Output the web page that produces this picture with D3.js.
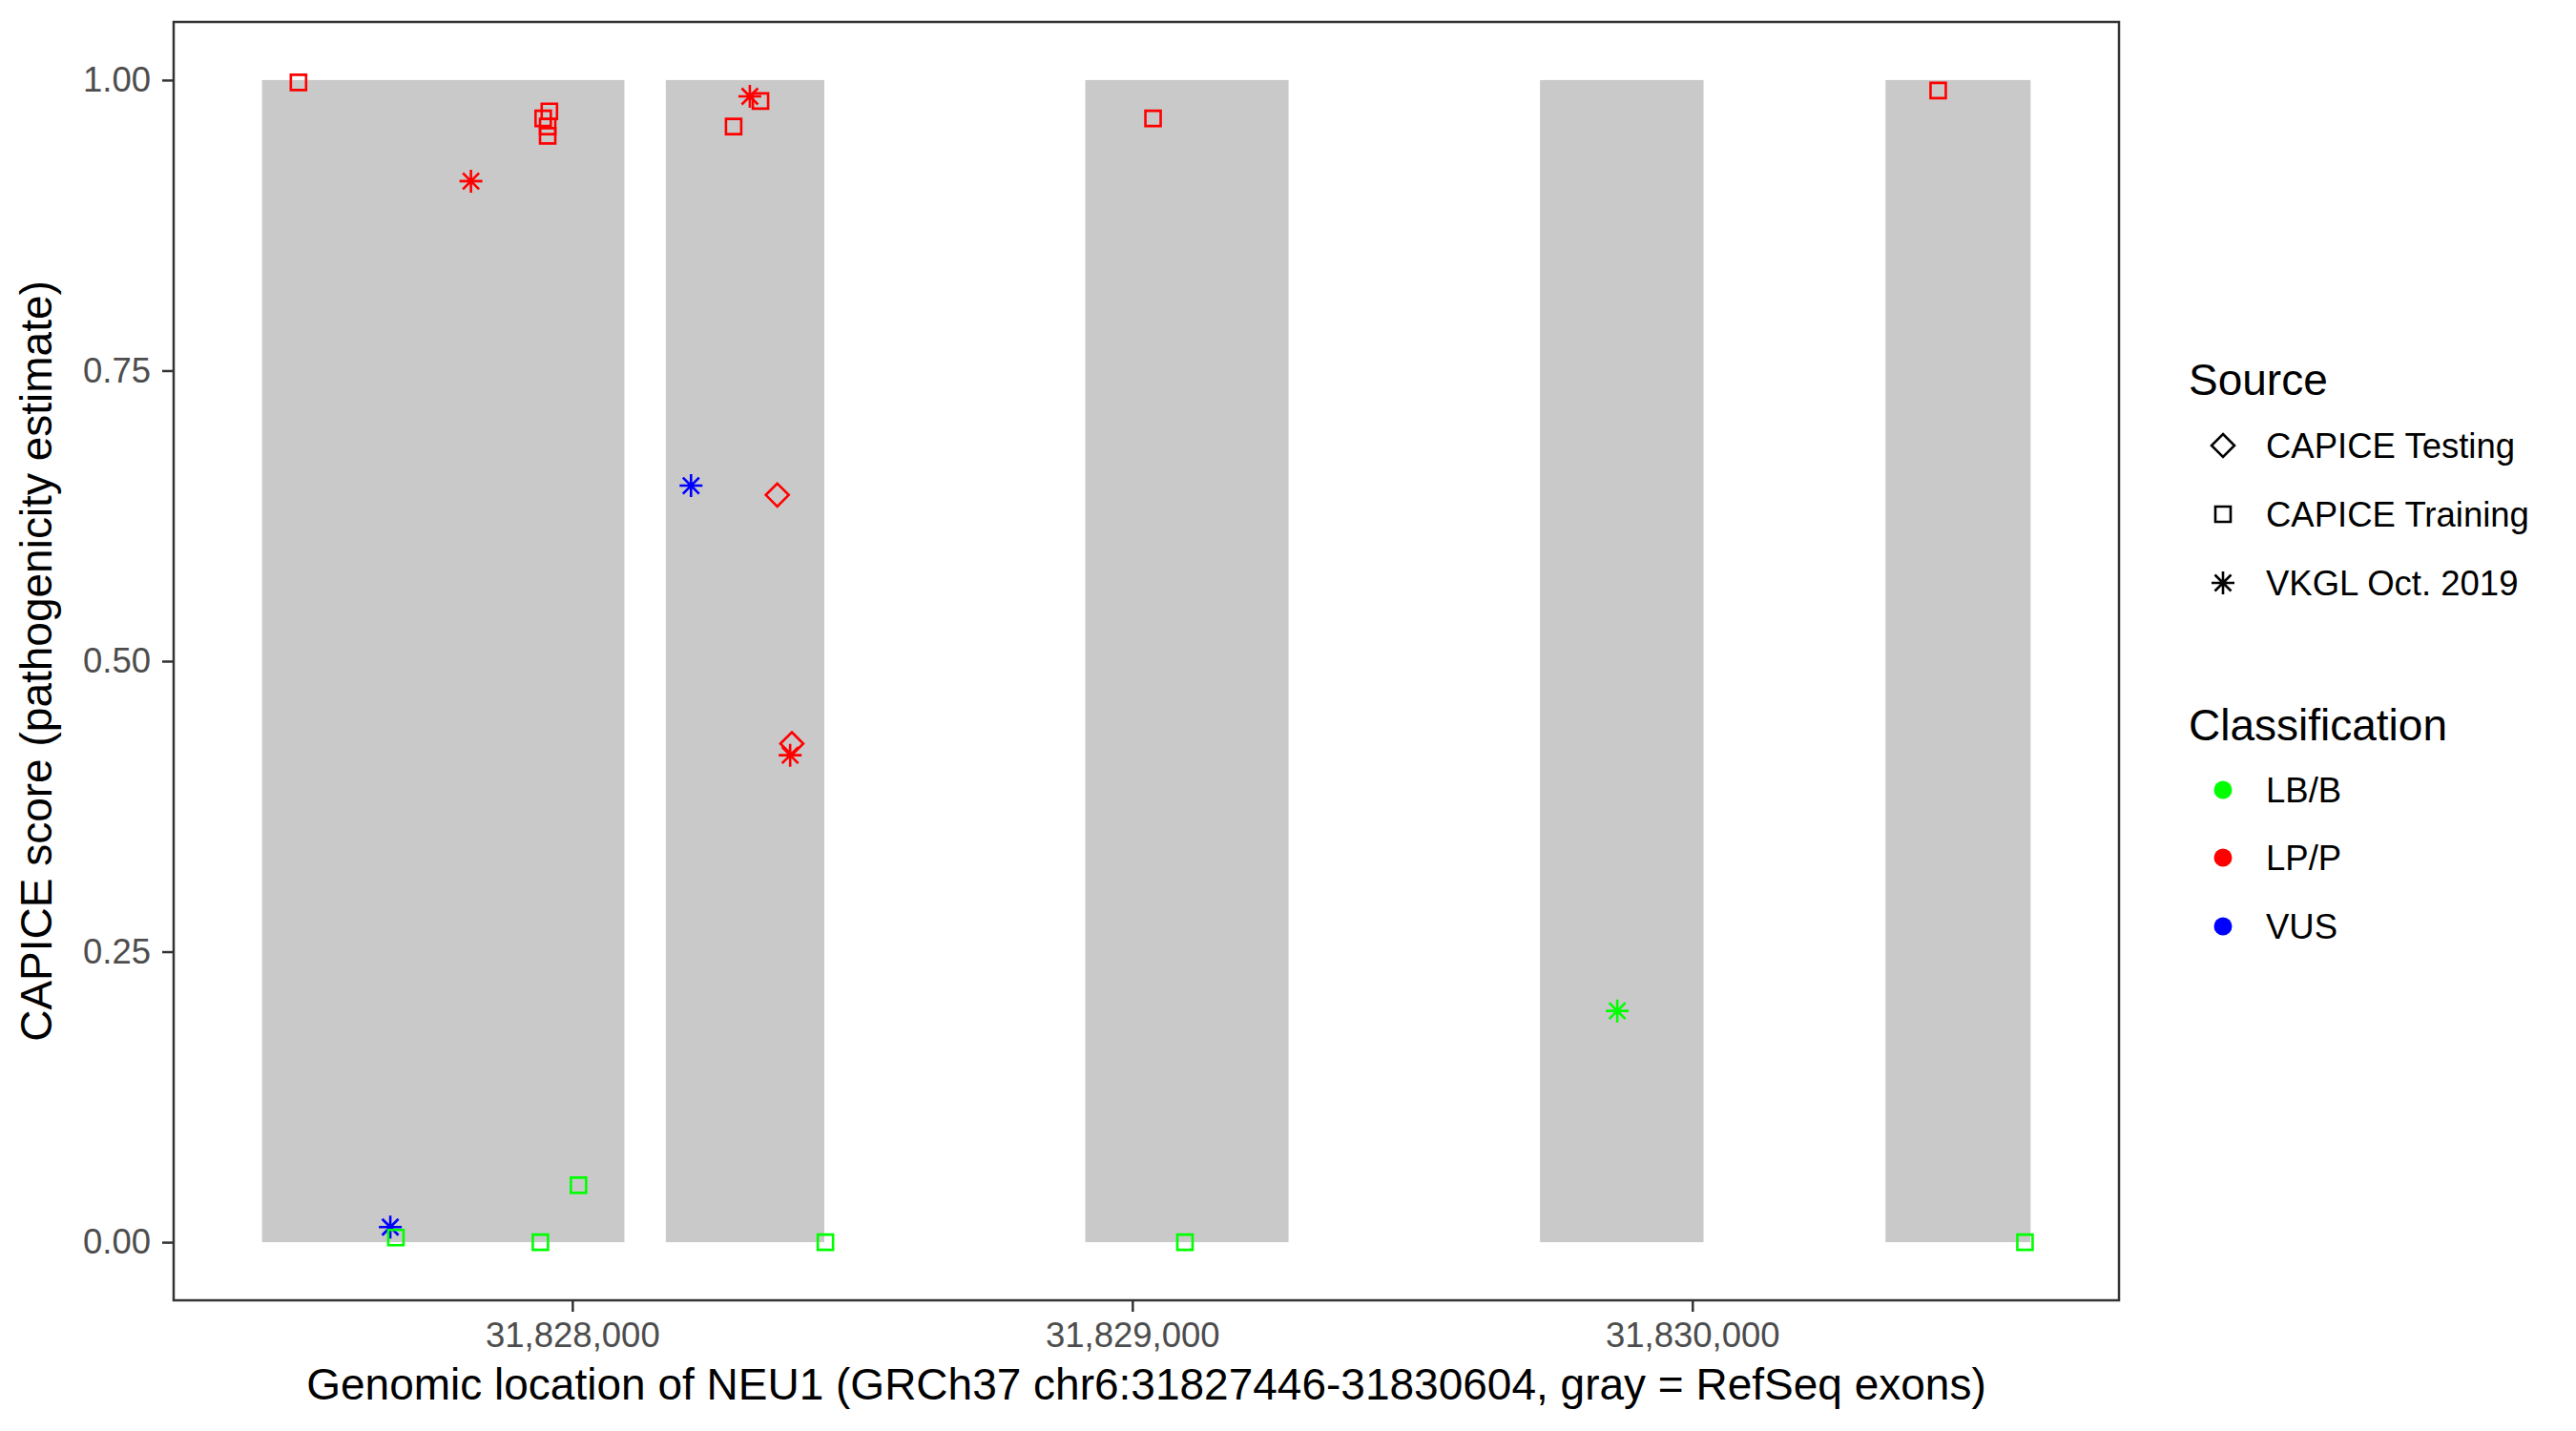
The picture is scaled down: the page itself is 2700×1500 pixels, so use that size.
<!DOCTYPE html>
<html>
  <head>
    <script src="https://d3js.org/d3.v7.min.js"></script>
    <style>
      body { margin: 0; background: white; }
      text { font-family: "Liberation Sans", Arial, sans-serif; }
    </style>
  </head>
  <body>
    <svg id="chart" width="2700" height="1500"></svg>
  </body>
  <script>
    // exons (RefSeq) of NEU1, genomic start / end
    var exonStart = [31827446, 31828167, 31828916, 31829728, 31830345];
    var exonEnd   = [31828093, 31828450, 31829279, 31830020, 31830604];

    // variants
    var varPos = [31827511, 31827959, 31827948, 31827956, 31827956, 31827819, 31828317, 31828336,
                  31828288, 31828212, 31828366, 31828392, 31828389, 31827675, 31827685, 31827943,
                  31828011, 31828452, 31829037, 31829094, 31829866, 31830594, 31830439];
    var varScore = [0.998, 0.973, 0.967, 0.960, 0.952, 0.913, 0.986, 0.982,
                    0.960, 0.651, 0.643, 0.429, 0.419, 0.013, 0.004, 0.000,
                    0.049, 0.000, 0.967, 0.000, 0.199, 0.000, 0.991];
    var varSource = ["CAPICE Training", "CAPICE Training", "CAPICE Training", "CAPICE Training",
                     "CAPICE Training", "VKGL Oct. 2019", "VKGL Oct. 2019", "CAPICE Training",
                     "CAPICE Training", "VKGL Oct. 2019", "CAPICE Testing", "CAPICE Testing",
                     "VKGL Oct. 2019", "VKGL Oct. 2019", "CAPICE Training", "CAPICE Training",
                     "CAPICE Training", "CAPICE Training", "CAPICE Training", "CAPICE Training",
                     "VKGL Oct. 2019", "CAPICE Training", "CAPICE Training"];
    var varClass = ["LP/P", "LP/P", "LP/P", "LP/P", "LP/P", "LP/P", "LP/P", "LP/P",
                    "LP/P", "VUS", "LP/P", "LP/P", "LP/P", "VUS", "LB/B", "LB/B",
                    "LB/B", "LB/B", "LP/P", "LB/B", "LB/B", "LB/B", "LP/P"];

    var sources = ["CAPICE Testing", "CAPICE Training", "VKGL Oct. 2019"];
    var classes = ["LB/B", "LP/P", "VUS"];
    var classColors = ["#00ff00", "#ff0000", "#0000ff"];

    var xTicks = [31828000, 31829000, 31830000];
    var yTicks = [0, 0.25, 0.5, 0.75, 1];

    var svg = d3.select("#chart");

    var pLeft = 182, pRight = 2221, pTop = 23, pBottom = 1363;

    var xMin = 31827446, xMax = 31830604;
    var xPad = (xMax - xMin) * 0.05;
    var x = d3.scaleLinear().domain([xMin - xPad, xMax + xPad]).range([pLeft, pRight]);
    var y = d3.scaleLinear().domain([-0.05, 1.05]).range([pBottom, pTop]);

    var color = d3.scaleOrdinal().domain(classes).range(classColors);

    // symbol paths, centered at 0,0
    function shapePath(src) {
      if (src == "CAPICE Testing") {
        var h = 12;
        return "M0," + (-h) + "L" + h + ",0L0," + h + "L" + (-h) + ",0Z";
      } else if (src == "CAPICE Training") {
        var s = 8;
        return "M" + (-s) + "," + (-s) + "H" + s + "V" + s + "H" + (-s) + "Z";
      } else {
        var a = 12, d = 8.5;
        return "M" + (-a) + ",0H" + a + "M0," + (-a) + "V" + a +
               "M" + (-d) + "," + (-d) + "L" + d + "," + d +
               "M" + (-d) + "," + d + "L" + d + "," + (-d);
      }
    }

    // exon rectangles
    svg.append("g").selectAll("rect")
      .data(exonStart)
      .enter().append("rect")
      .attr("x", function(d) { return x(d); })
      .attr("width", function(d, i) { return x(exonEnd[i]) - x(d); })
      .attr("y", y(1))
      .attr("height", y(0) - y(1))
      .attr("fill", "#c9c9c9");

    // points
    svg.append("g").selectAll("path")
      .data(varPos)
      .enter().append("path")
      .attr("transform", function(d, i) { return "translate(" + x(d) + "," + y(varScore[i]) + ")"; })
      .attr("d", function(d, i) { return shapePath(varSource[i]); })
      .attr("fill", "none")
      .attr("stroke", function(d, i) { return color(varClass[i]); })
      .attr("stroke-width", 2.6);

    // panel border
    svg.append("rect")
      .attr("x", pLeft).attr("y", pTop)
      .attr("width", pRight - pLeft).attr("height", pBottom - pTop)
      .attr("fill", "none")
      .attr("stroke", "#333333")
      .attr("stroke-width", 2.5);

    // axes
    var xAxis = d3.axisBottom(x).tickValues(xTicks).tickSize(12).tickPadding(11)
                  .tickFormat(d3.format(","));
    var yAxis = d3.axisLeft(y).tickValues(yTicks).tickSize(12).tickPadding(12)
                  .tickFormat(d3.format(".2f"));

    var gx = svg.append("g").attr("transform", "translate(0," + pBottom + ")").call(xAxis);
    var gy = svg.append("g").attr("transform", "translate(" + pLeft + ",0)").call(yAxis);

    [gx, gy].forEach(function(g) {
      g.select(".domain").remove();
      g.selectAll(".tick line").attr("stroke", "#333333").attr("stroke-width", 2.5);
      g.selectAll(".tick text").attr("fill", "#4d4d4d").style("font-size", "36.5px")
        .style("font-family", "'Liberation Sans', Arial, sans-serif");
    });

    // axis titles
    svg.append("text")
      .attr("x", (pLeft + pRight) / 2)
      .attr("y", 1467)
      .attr("text-anchor", "middle")
      .style("font-size", "46px")
      .text("Genomic location of NEU1 (GRCh37 chr6:31827446-31830604, gray = RefSeq exons)");

    svg.append("text")
      .attr("transform", "translate(54," + (pTop + pBottom) / 2 + ") rotate(-90)")
      .attr("text-anchor", "middle")
      .style("font-size", "46px")
      .text("CAPICE score (pathogenicity estimate)");

    // legend: Source
    var legX = 2294, keyX = 2330, labX = 2375;
    svg.append("text").attr("x", legX).attr("y", 414)
      .style("font-size", "46px").text("Source");

    var srcY = [467, 539, 611];
    var lg1 = svg.append("g").selectAll("g")
      .data(sources).enter().append("g")
      .attr("transform", function(d, i) { return "translate(0," + srcY[i] + ")"; });
    lg1.append("path")
      .attr("transform", "translate(" + keyX + ",0)")
      .attr("d", function(d) { return shapePath(d); })
      .attr("fill", "none").attr("stroke", "black").attr("stroke-width", 2.6);
    lg1.append("text").attr("x", labX).attr("dy", "0.35em")
      .style("font-size", "36.5px").text(function(d) { return d; });

    // legend: Classification
    svg.append("text").attr("x", legX).attr("y", 776)
      .style("font-size", "46px").text("Classification");

    var clsY = [828, 899, 971];
    var lg2 = svg.append("g").selectAll("g")
      .data(classes).enter().append("g")
      .attr("transform", function(d, i) { return "translate(0," + clsY[i] + ")"; });
    lg2.append("circle")
      .attr("cx", keyX).attr("r", 9.5)
      .attr("fill", function(d) { return color(d); });
    lg2.append("text").attr("x", labX).attr("dy", "0.35em")
      .style("font-size", "36.5px").text(function(d) { return d; });
  </script>
</html>
